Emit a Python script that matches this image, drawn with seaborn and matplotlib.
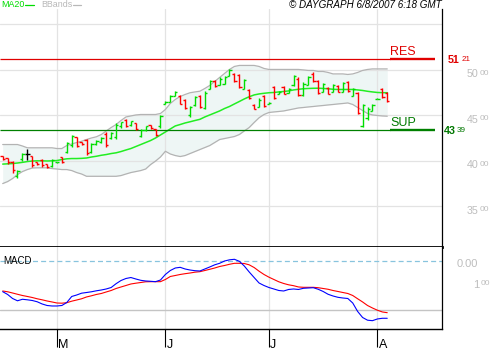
import numpy as np
import pandas as pd
import matplotlib
matplotlib.use("Agg")
import matplotlib.pyplot as plt
from matplotlib.lines import Line2D
import seaborn as sns

# ---------------- data ----------------
start_date = "2007-04-16"
end_date = "2007-08-03"
holidays = ["2007-05-28"]

opens = [4050, 4030, 3990, 3830, 4020, 4080, 4050, 3990, 4010, 3965,
         3950, 3985, 4040, 4100, 4180, 4260, 4210, 4230, 4100, 4190,
         4210, 4300, 4250, 4260, 4380, 4450, 4395, 4415, 4280, 4340,
         4395, 4350, 4380, 4625, 4650, 4715, 4710, 4665, 4500, 4610,
         4710, 4580, 4795, 4875, 4840, 4850, 4935, 4955, 4940, 4795,
         4775, 4615, 4595, 4710, 4625, 4810, 4735, 4810, 4745, 4830,
         4905, 4720, 4840, 4960, 4875, 4760, 4800, 4760, 4820, 4760,
         4865, 4715, 4745, 4390, 4470, 4550, 4678, 4790, 4745]
highs = [4060, 4038, 4005, 3906, 4093, 4137, 4060, 3994, 4027, 3972,
         4027, 3994, 4049, 4214, 4291, 4269, 4214, 4247, 4203, 4236,
         4269, 4324, 4324, 4423, 4434, 4467, 4445, 4423, 4357, 4390,
         4401, 4357, 4500, 4654, 4720, 4764, 4720, 4676, 4599, 4709,
         4720, 4764, 4885, 4885, 4918, 4929, 5006, 4962, 4951, 4896,
         4786, 4621, 4687, 4720, 4643, 4819, 4764, 4819, 4797, 4940,
         4918, 4863, 4929, 4973, 4885, 4852, 4808, 4841, 4830, 4863,
         4874, 4797, 4753, 4621, 4588, 4621, 4687, 4797, 4753]
lows = [4016, 3972, 3873, 3818, 4005, 4016, 3939, 3961, 3939, 3928,
        3939, 3983, 3983, 4093, 4159, 4159, 4181, 4071, 4093, 4181,
        4203, 4159, 4247, 4247, 4368, 4379, 4390, 4346, 4269, 4335,
        4357, 4280, 4368, 4621, 4643, 4709, 4621, 4566, 4489, 4599,
        4577, 4566, 4786, 4808, 4830, 4841, 4929, 4863, 4797, 4786,
        4676, 4566, 4588, 4588, 4621, 4676, 4731, 4731, 4742, 4819,
        4709, 4709, 4830, 4863, 4731, 4753, 4731, 4753, 4753, 4753,
        4753, 4709, 4511, 4379, 4456, 4544, 4676, 4687, 4643]
closes = [4025, 3985, 3900, 3895, 4080, 4080, 3960, 3970, 3955, 3935,
          4015, 3992, 3985, 4200, 4270, 4170, 4190, 4090, 4190, 4225,
          4255, 4180, 4310, 4400, 4425, 4390, 4435, 4355, 4345, 4380,
          4365, 4290, 4490, 4650, 4710, 4755, 4630, 4580, 4590, 4700,
          4590, 4750, 4875, 4820, 4905, 4920, 4995, 4875, 4810, 4885,
          4690, 4575, 4675, 4600, 4640, 4690, 4760, 4740, 4790, 4930,
          4720, 4850, 4920, 4875, 4745, 4845, 4740, 4830, 4760, 4855,
          4765, 4790, 4530, 4610, 4575, 4610, 4685, 4700, 4655]
ma20 = [3966, 3969, 3972, 3978, 3985, 3994, 4000, 4002, 4002, 4000,
        4002, 4005, 4016, 4024, 4027, 4027, 4029, 4033, 4044, 4052,
        4063, 4071, 4082, 4090, 4104, 4121, 4137, 4159, 4181, 4203,
        4225, 4253, 4286, 4319, 4352, 4385, 4401, 4418, 4431, 4445,
        4458, 4484, 4506, 4528, 4550, 4577, 4599, 4627, 4654, 4682,
        4706, 4726, 4737, 4744, 4750, 4753, 4759, 4764, 4770, 4781,
        4788, 4794, 4797, 4799, 4800, 4797, 4794, 4788, 4786, 4786,
        4786, 4786, 4781, 4775, 4766, 4759, 4753, 4751, 4750]
bb_upper = [4181, 4181, 4181, 4181, 4165, 4145, 4145, 4145, 4145, 4145,
            4145, 4137, 4137, 4170, 4187, 4203, 4217, 4236, 4253, 4266,
            4291, 4330, 4368, 4401, 4445, 4484, 4495, 4506, 4511, 4511,
            4511, 4511, 4522, 4566, 4632, 4676, 4709, 4731, 4750, 4759,
            4767, 4797, 4830, 4874, 4918, 4962, 5006, 5039, 5050, 5050,
            5050, 5050, 5039, 5017, 5006, 5006, 5006, 5006, 5006, 5006,
            5006, 5001, 4995, 4995, 4984, 4984, 4973, 4957, 4957, 4957,
            4951, 4957, 4973, 4995, 5006, 5012, 5012, 5012, 5012]
bb_lower = [3752, 3774, 3807, 3851, 3884, 3906, 3923, 3925, 3925, 3925,
            3917, 3912, 3906, 3906, 3895, 3873, 3857, 3832, 3832, 3832,
            3832, 3832, 3832, 3832, 3840, 3857, 3873, 3884, 3895, 3912,
            3961, 3999, 4044, 4107, 4077, 4060, 4049, 4060, 4082, 4104,
            4126, 4148, 4170, 4203, 4236, 4247, 4258, 4269, 4291, 4330,
            4368, 4423, 4475, 4511, 4533, 4539, 4544, 4550, 4561, 4572,
            4583, 4588, 4594, 4599, 4605, 4610, 4616, 4621, 4627, 4632,
            4638, 4621, 4588, 4555, 4522, 4506, 4500, 4495, 4492]
macd = [-62.6, -68.3, -76.5, -81.2, -78.1, -79.2, -80.6, -83.2, -87.7, -90.8,
        -91.8, -91.8, -90.8, -84.7, -72.4, -69.4, -65.7, -64.3, -62.8, -60.8,
        -59.2, -57.1, -54.1, -46.3, -39.8, -35.7, -33.7, -36.7, -39.4, -40.8,
        -41.4, -42.2, -38.8, -27.5, -19.4, -14.3, -12.9, -16.3, -18.4, -19.8,
        -20.4, -16.3, -12.2, -7.8, -4.7, 0.0, 2.4, 3.5, -0.6, -10.2,
        -22.4, -33.7, -44.9, -50.0, -54.1, -57.1, -60.2, -61.2, -58.1, -57.1,
        -58.1, -55.7, -55.1, -54.5, -57.7, -62.2, -67.9, -71.4, -74.1, -75.5,
        -76.5, -85.7, -103.0, -115.3, -120.8, -121.8, -118.3, -116.9, -116.9]
signal = [-61.2, -62.8, -65.3, -67.9, -70.4, -72.4, -74.5, -77.1, -79.2, -81.6,
          -83.6, -85.7, -86.1, -85.1, -82.0, -79.6, -77.1, -73.4, -71.0, -68.3,
          -66.3, -63.2, -60.2, -56.1, -53.0, -50.0, -46.9, -45.3, -43.9, -42.4,
          -42.2, -42.2, -42.2, -37.7, -31.6, -29.6, -27.5, -25.9, -24.5, -22.8,
          -21.8, -19.4, -16.9, -14.3, -11.2, -9.2, -6.7, -4.7, -4.7, -5.1,
          -7.8, -13.3, -20.8, -27.5, -33.0, -37.7, -42.4, -45.9, -48.6, -50.4,
          -53.0, -53.7, -53.7, -53.7, -54.5, -56.1, -57.7, -60.2, -62.2, -64.3,
          -66.3, -70.4, -77.1, -83.6, -90.8, -95.9, -100.4, -104.0, -105.5]
res_level = 5121
sup_level = 4339
price_grid = [3500, 4000, 4500, 5000, 5500]
price_labels = [3500, 4000, 4500, 5000]
macd_zero = 0
macd_ref = -100
header = "\u00a9 DAYGRAPH 6/8/2007 6:18 GMT"

# ---------------- style ----------------
sns.set_theme(style="white")
plt.rcParams["font.family"] = ["Liberation Sans", "DejaVu Sans"]

GREEN = "#00dd00"
RED = "#ff0000"
GRID = "#e3e3e3"
LABEL_GRAY = "#bdbdbd"

dates = pd.bdate_range(start_date, end_date, freq="C", holidays=holidays)
pos = np.arange(len(dates))
df = pd.DataFrame({"pos": pos, "open": opens, "high": highs, "low": lows,
                   "close": closes, "ma20": ma20, "upper": bb_upper,
                   "lower": bb_lower, "macd": macd, "signal": signal})
month_idx = [i for i in range(1, len(dates)) if dates[i].month != dates[i - 1].month]

W, H = 500, 350
fig = plt.figure(figsize=(W / 100, H / 100), dpi=100)
fig.patch.set_facecolor("white")

TOP, SEP, BOT, RIGHT = 9, 247, 329, 442
ax = fig.add_axes([0, 1 - SEP / H, RIGHT / W, (SEP - TOP) / H])
ax2 = fig.add_axes([0, 1 - BOT / H, RIGHT / W, (BOT - SEP) / H])

PX_PER_BAR, FIRST_PX = 4.93, 2.7
def px2x(px):
    return (px - FIRST_PX) / PX_PER_BAR

def fxy(px, py):
    return px / W, 1 - py / H

# scales
Y_REF_PX, Y_REF, UPP = 115.5, 4500, 500 / 45.5
ax.set_ylim(Y_REF - (SEP - Y_REF_PX) * UPP, Y_REF + (Y_REF_PX - TOP) * UPP)
M_ZERO_PX, M_UPP = 261, 100 / 49
ax2.set_ylim(-(BOT - M_ZERO_PX) * M_UPP, (M_ZERO_PX - SEP) * M_UPP)
for a in (ax, ax2):
    a.set_xlim(px2x(0), px2x(RIGHT))
    a.set_facecolor("white")

# ---------------- main panel ----------------
ax.fill_between(df["pos"], df["lower"], df["upper"], color="#eef6f5", lw=0, zorder=1)
for v in price_grid:
    ax.axhline(v, color=GRID, lw=0.9, zorder=1.5)
for p in month_idx:
    ax.axvline(p, color=GRID, lw=0.9, zorder=1.5)
    ax2.axvline(p, color=GRID, lw=0.9, zorder=1.5)

sns.lineplot(data=df, x="pos", y="upper", ax=ax, color="#b3b3b3", lw=0.9, zorder=2)
sns.lineplot(data=df, x="pos", y="lower", ax=ax, color="#b3b3b3", lw=0.9, zorder=2)
sns.lineplot(data=df, x="pos", y="ma20", ax=ax, color="#22ee22", lw=1.1, zorder=3)

# resistance / support
for lvl, col in ((res_level, "#e00000"), (sup_level, "#008000")):
    ax.plot([px2x(0), px2x(390)], [lvl, lvl], color=col, lw=0.9, zorder=4,
            solid_capstyle="butt")
    ax.plot([px2x(390), px2x(435)], [lvl, lvl], color=col, lw=1.7, zorder=4,
            solid_capstyle="butt")
ax.annotate("RES", xy=(px2x(390), res_level), xytext=(0, 2.9), textcoords="offset points",
            fontsize=9, color="#e00000", va="baseline", ha="left")
ax.annotate("SUP", xy=(px2x(390), sup_level), xytext=(0, 3.0), textcoords="offset points",
            fontsize=9, color="#007a00", va="baseline", ha="left")

# OHLC bars
o = np.array(opens); c = np.array(closes)
cols = np.where(c > o, GREEN, np.where(c < o, RED, "#000000"))
ax.vlines(df["pos"], df["low"], df["high"], colors=cols, lw=1.0, zorder=5)
ax.hlines(df["open"], df["pos"] - 0.45, df["pos"], colors=cols, lw=1.0, zorder=5)
ax.hlines(df["close"], df["pos"], df["pos"] + 0.45, colors=cols, lw=1.0, zorder=5)

# right-hand price labels
for v in price_labels:
    ax.annotate(f"{v // 100}", xy=(1, v), xycoords=("axes fraction", "data"),
                xytext=(18, -5.4), textcoords="offset points", fontsize=7.7,
                color=LABEL_GRAY, va="baseline", ha="left", annotation_clip=False)
    ax.annotate(f"{v % 100:02d}", xy=(1, v), xycoords=("axes fraction", "data"),
                xytext=(27.2, -3.3), textcoords="offset points", fontsize=6.0,
                color=LABEL_GRAY, va="baseline", ha="left", annotation_clip=False)
for lvl, col, dx1, dy1, dx2, dy2 in ((res_level, "#e00000", 4.3, -2.9, 14.4, -1.2),
                                     (sup_level, "#007700", 1.4, -2.7, 10.8, -1.3)):
    ax.annotate(f"{lvl // 100}", xy=(1, lvl), xycoords=("axes fraction", "data"),
                xytext=(dx1, dy1), textcoords="offset points", fontsize=7.7,
                fontweight="bold", color=col, va="baseline", ha="left",
                annotation_clip=False)
    ax.annotate(f"{lvl % 100:02d}", xy=(1, lvl), xycoords=("axes fraction", "data"),
                xytext=(dx2, dy2), textcoords="offset points", fontsize=5.8,
                color=col, va="baseline", ha="left", annotation_clip=False)

# ---------------- MACD panel ----------------
ax2.axhline(macd_zero, color="#88c4de", lw=0.9, linestyle=(0, (4, 2.5)), zorder=2)
ax2.axhline(macd_ref, color="#c4c4c4", lw=1.0, zorder=2)
sns.lineplot(data=df, x="pos", y="signal", ax=ax2, color="#ff0000", lw=0.8, zorder=3)
sns.lineplot(data=df, x="pos", y="macd", ax=ax2, color="#0000ff", lw=0.8, zorder=4)

ax2.annotate(f"{macd_zero:.2f}", xy=(1, macd_zero), xycoords=("axes fraction", "data"),
             xytext=(10.8, -4.3), textcoords="offset points", fontsize=8,
             color=LABEL_GRAY, va="baseline", ha="left", annotation_clip=False)
ax2.annotate(f"{abs(macd_ref) // 100}", xy=(1, macd_ref), xycoords=("axes fraction", "data"),
             xytext=(22.5, 15.8), textcoords="offset points", fontsize=8,
             color=LABEL_GRAY, va="baseline", ha="left", annotation_clip=False)
ax2.annotate(f"{abs(macd_ref) % 100:02d}", xy=(1, macd_ref), xycoords=("axes fraction", "data"),
             xytext=(27.8, 18), textcoords="offset points", fontsize=6.0,
             color=LABEL_GRAY, va="baseline", ha="left", annotation_clip=False)

# month ticks and labels
ax2.set_xticks(month_idx)
ax2.tick_params(axis="x", bottom=True, direction="out", length=13, width=0.8,
                color="black", labelbottom=False)
for p in month_idx:
    ax2.annotate(dates[p].strftime("%b")[0], xy=(p, 0), xycoords=("data", "axes fraction"),
                 xytext=(1.0, -13.7), textcoords="offset points", fontsize=9,
                 color="black", va="baseline", ha="left", annotation_clip=False)

# axes cosmetics
for a in (ax, ax2):
    a.set_xlabel("")
    a.set_ylabel("")
    a.set_yticks([])
    for s in ("left", "top"):
        a.spines[s].set_visible(False)
    a.spines["right"].set_color("black")
    a.spines["right"].set_linewidth(0.9)
    a.spines["bottom"].set_color("black")
ax.set_xticks([])
ax.spines["bottom"].set_linewidth(2.0)
ax.spines["bottom"].set_zorder(10)
ax2.spines["bottom"].set_linewidth(1.0)

# header texts
fig.text(*fxy(1, 7.3), "MA20", color="#00dd00", fontsize=6.4, va="baseline", ha="left")
fig.add_artist(Line2D([25 / W, 34 / W], [1 - 4.5 / H] * 2, color="#00dd00", lw=0.9))
fig.text(*fxy(41, 7.3), "BBands", color="#b8b8b8", fontsize=6.4, va="baseline", ha="left")
fig.add_artist(Line2D([73 / W, 81 / W], [1 - 4.5 / H] * 2, color="#b8b8b8", lw=0.9))
fig.text(*fxy(442, 8.3), header, fontsize=7.1, style="italic", color="black",
         va="baseline", ha="right")
fig.text(*fxy(3, 264), "MACD", fontsize=7, color="black", va="baseline", ha="left")

fig.savefig("out.png", dpi=100, facecolor="white")
